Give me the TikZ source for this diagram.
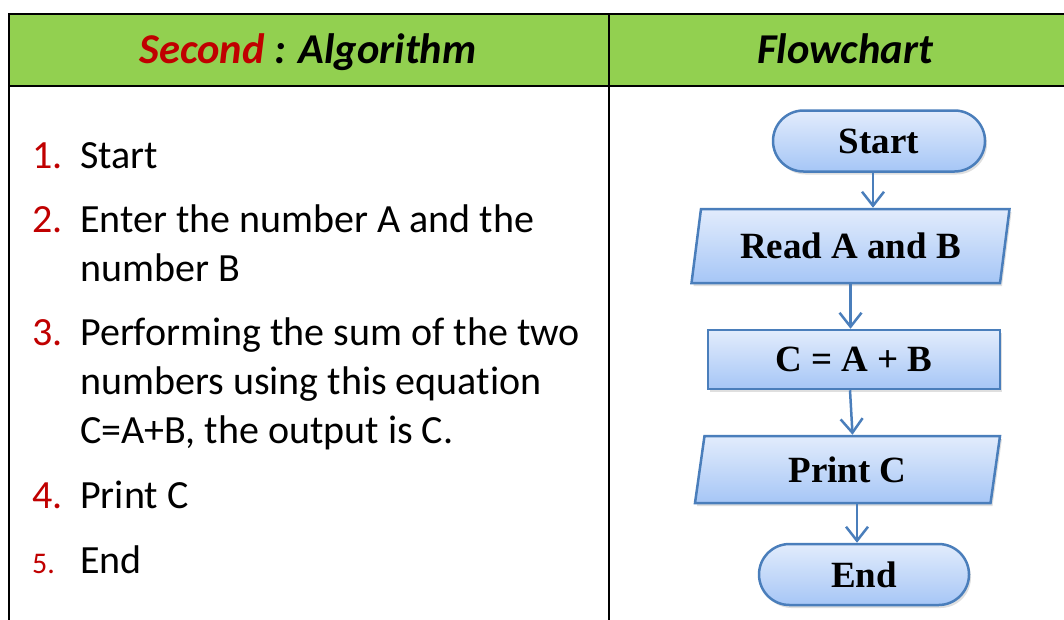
\documentclass[tikz,border=0pt]{standalone}
\usepackage{fontspec}
\setmainfont{Carlito}[Ligatures=NoCommon]
\newfontfamily\flowfont{Liberation Serif}
\usetikzlibrary{arrows.meta, positioning, shapes.geometric, shapes.misc, shadows}
\definecolor{HeadGreen}{RGB}{146,208,80}
\definecolor{NumRed}{RGB}{192,0,0}
\definecolor{FlowLine}{RGB}{74,126,187}
\definecolor{FlowTop}{RGB}{226,236,252}
\definecolor{FlowBot}{RGB}{166,198,246}

\begin{document}
\begin{tikzpicture}[
    x=1pt, y=-1pt,
    every node/.style={inner sep=0pt},
    rule/.style={line width=2.5pt, line cap=rect},
    head/.style={anchor=base, font=\fontsize{42.5}{50}\selectfont\bfseries\itshape},
    num/.style={anchor=base west, text=NumRed, font=\fontsize{40}{49}\selectfont},
    item/.style={anchor=base west, align=left, font=\fontsize{40}{49}\selectfont},
    box/.style={draw=FlowLine, line width=2.5pt, top color=FlowTop, bottom color=FlowBot,
                font=\flowfont\fontsize{37}{44}\selectfont\bfseries,
                drop shadow={opacity=0.25, shadow xshift=2pt, shadow yshift=-3pt}},
    terminal/.style={box, rounded rectangle, minimum width=212pt, minimum height=61pt},
    process/.style={box, rectangle, minimum width=292pt, minimum height=59pt},
    inout/.style={box, trapezium, trapezium left angle=70, trapezium right angle=110,
                  trapezium stretches body},
    flow/.style={draw=FlowLine, line width=2.5pt, -{Straight Barb[length=14pt, width=22pt]}}
]
\useasboundingbox (0,0) rectangle (1064,619);

% table
\fill[HeadGreen] (9,14) rectangle (1064,86);
\draw[rule] (9,14) -- (1064,14);
\draw[rule] (9,86) -- (1064,86);
\draw[rule] (9,14) -- (9,619);
\draw[rule] (609,14) -- (609,619);

\node[head] (hleft) at (308,63) {\textcolor{NumRed}{Second} : Algorithm};
\node[head] (hright) at (845,63) {Flowchart};

% algorithm steps (multi-line items sit on their last baseline)
\node[num] (n1) at (32,168) {1.};
\node[item] (t1) at (80,168) {Start};
\node[num] (n2) at (32,232) {2.};
\node[item] (t2) at (80,281) {Enter the number A and the\\number B};
\node[num] (n3) at (32,345) {3.};
\node[item] (t3) at (80,443) {Performing the sum of the two\\numbers using this equation\\C=A+B, the output is C.};
\node[num] (n4) at (32,508) {4.};
\node[item] (t4) at (80,508) {Print C};
\node[num, font=\fontsize{30}{36}\selectfont] (n5) at (32,573) {5.};
\node[item] (t5) at (80,573) {End};

% flowchart
\node[terminal] (start) at (879,141) {Start};
\node[inout, minimum width=318pt, minimum height=74pt] (read) at (850.5,246) {Read A and B};
\node[process] (calc) at (854,359.5) {C = A + B};
\node[inout, minimum width=305pt, minimum height=67pt] (print) at (847.5,469.5) {Print C};
\node[terminal, minimum width=210pt] (end) at (864,574.5) {End};

\draw[flow] ([xshift=-6pt]start.south) -- ([xshift=-6pt]start.south |- read.north);
\draw[flow] (read.south) -- (read.south |- calc.north);
\draw[flow] ([xshift=-4pt]calc.south) -- ([xshift=5pt]print.north);
\draw[flow] ([xshift=-7pt]end.north |- print.south) -- ([xshift=-7pt]end.north);
\end{tikzpicture}
\end{document}
